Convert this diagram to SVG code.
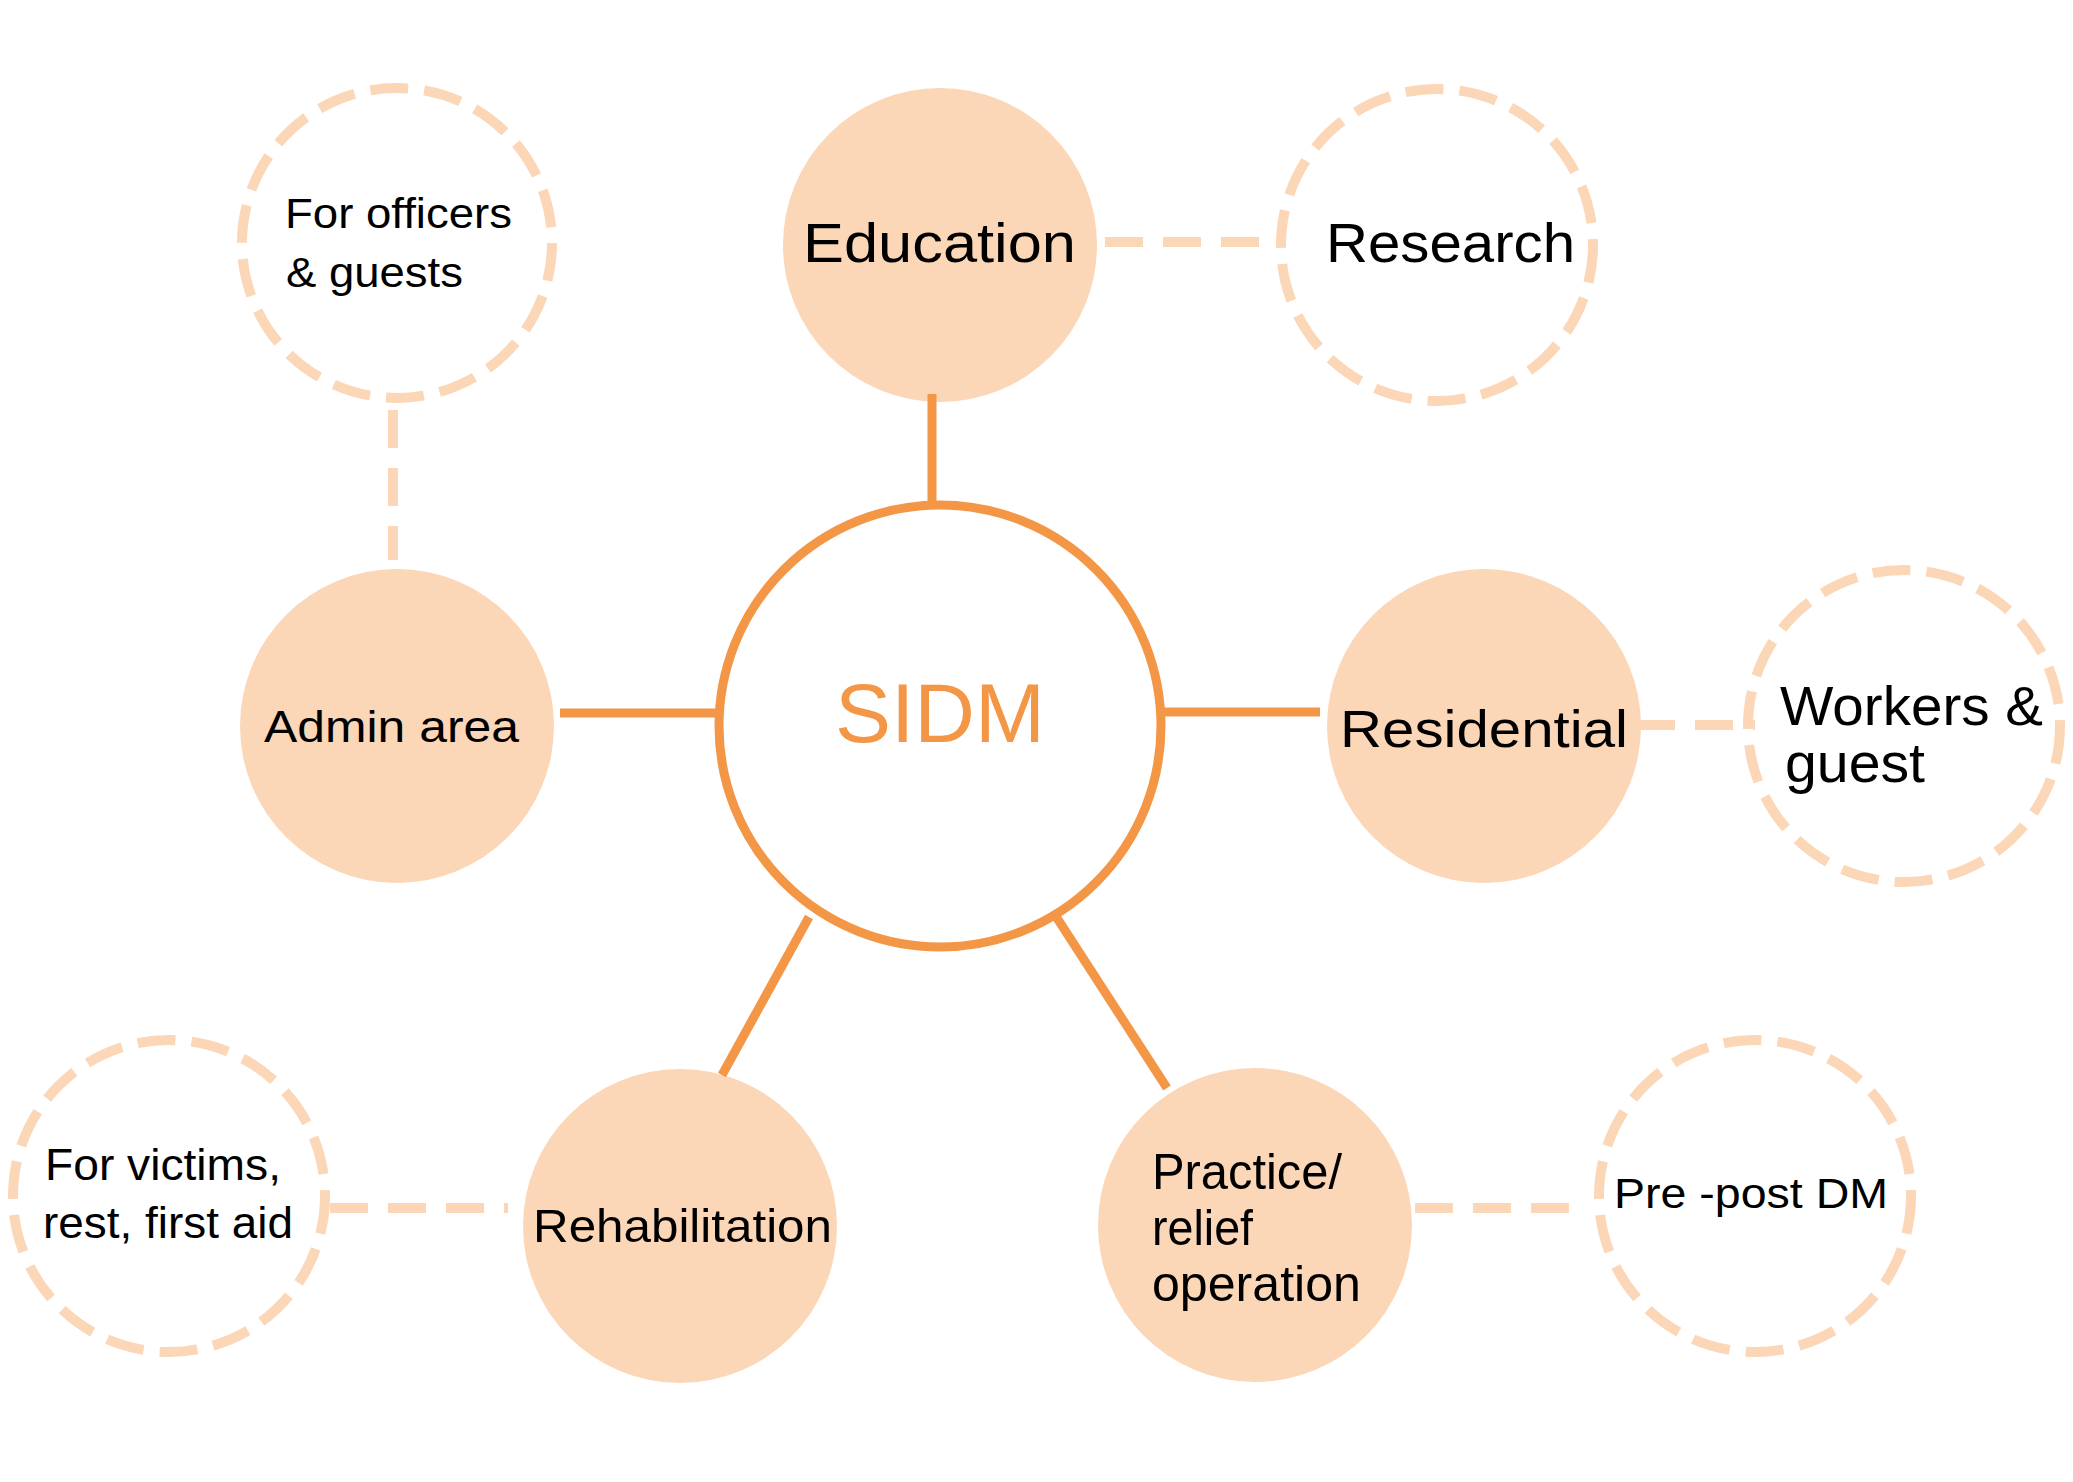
<svg xmlns="http://www.w3.org/2000/svg" width="2073" height="1482" viewBox="0 0 2073 1482">
<style>
.bg{fill:#ffffff}
.main{fill:#FBD6B7;stroke:none}
.sub{fill:#ffffff;stroke:#FBD6B7;stroke-width:10;stroke-dasharray:38 16.1}
.hub{fill:#ffffff;stroke:#F39646;stroke-width:9}
.solid{stroke:#F39646;stroke-width:9;fill:none}
.dash{stroke:#FBD6B7;stroke-width:10;stroke-dasharray:38 20;fill:none}
text{font-family:"Liberation Sans",Arial,sans-serif;fill:#000000}
.hubt{fill:#F39646}
</style>
<rect class="bg" x="0" y="0" width="2073" height="1482"/>
<g id="nodes">
<g id="officers"><circle class="sub" cx="397" cy="243" r="155"/>
<text x="285" y="228" font-size="43" textLength="227" lengthAdjust="spacingAndGlyphs">For officers</text>
<text x="286" y="287" font-size="43" textLength="177" lengthAdjust="spacingAndGlyphs">&amp; guests</text></g>
<g id="education"><circle class="main" cx="940" cy="245" r="157"/>
<text x="803" y="262" font-size="56" textLength="273" lengthAdjust="spacingAndGlyphs">Education</text></g>
<g id="research"><circle class="sub" cx="1437" cy="245" r="156"/>
<text x="1326" y="262" font-size="56" textLength="249" lengthAdjust="spacingAndGlyphs">Research</text></g>
<g id="admin"><circle class="main" cx="397" cy="726" r="157"/>
<text x="264" y="742" font-size="44" textLength="255" lengthAdjust="spacingAndGlyphs">Admin area</text></g>
<g id="sidm"><circle class="hub" cx="940" cy="726" r="221"/>
<text class="hubt" x="835" y="742" font-size="84" textLength="210" lengthAdjust="spacingAndGlyphs">SIDM</text></g>
<g id="residential"><circle class="main" cx="1484" cy="726" r="157"/>
<text x="1340" y="747" font-size="52" textLength="288" lengthAdjust="spacingAndGlyphs">Residential</text></g>
<g id="workers"><circle class="sub" cx="1904" cy="726" r="156"/>
<text x="1780" y="725" font-size="55" textLength="263" lengthAdjust="spacingAndGlyphs">Workers &amp;</text>
<text x="1785" y="782" font-size="55" textLength="140" lengthAdjust="spacingAndGlyphs">guest</text></g>
<g id="victims"><circle class="sub" cx="169" cy="1196" r="156"/>
<text x="45" y="1180" font-size="44" textLength="236" lengthAdjust="spacingAndGlyphs">For victims,</text>
<text x="43" y="1238" font-size="44" textLength="250" lengthAdjust="spacingAndGlyphs">rest, first aid</text></g>
<g id="rehabilitation"><circle class="main" cx="680" cy="1226" r="157"/>
<text x="533" y="1242" font-size="47" textLength="299" lengthAdjust="spacingAndGlyphs">Rehabilitation</text></g>
<g id="practice"><circle class="main" cx="1255" cy="1225" r="157"/>
<text x="1152" y="1189" font-size="50" textLength="190" lengthAdjust="spacingAndGlyphs">Practice/</text>
<text x="1152" y="1245" font-size="50" textLength="101" lengthAdjust="spacingAndGlyphs">relief</text>
<text x="1152" y="1301" font-size="50" textLength="209" lengthAdjust="spacingAndGlyphs">operation</text></g>
<g id="prepost"><circle class="sub" cx="1755" cy="1196" r="156"/>
<text x="1614" y="1208" font-size="42" textLength="274" lengthAdjust="spacingAndGlyphs">Pre -post DM</text></g>
</g>
<g id="connectors">
<line class="solid" x1="932" y1="394" x2="932" y2="506"/>
<line class="solid" x1="560" y1="713" x2="719" y2="713"/>
<line class="solid" x1="1161" y1="712" x2="1320" y2="712"/>
<line class="solid" x1="809" y1="917" x2="722" y2="1075"/>
<line class="solid" x1="1057" y1="918" x2="1167" y2="1088"/>
<line class="dash" x1="1105" y1="242" x2="1262" y2="242"/>
<line class="dash" x1="393" y1="410" x2="393" y2="560"/>
<line class="dash" x1="1637" y1="725" x2="1755" y2="725"/>
<line class="dash" x1="330" y1="1208" x2="508" y2="1208"/>
<line class="dash" x1="1415" y1="1208" x2="1572" y2="1208"/>
</g>
</svg>
